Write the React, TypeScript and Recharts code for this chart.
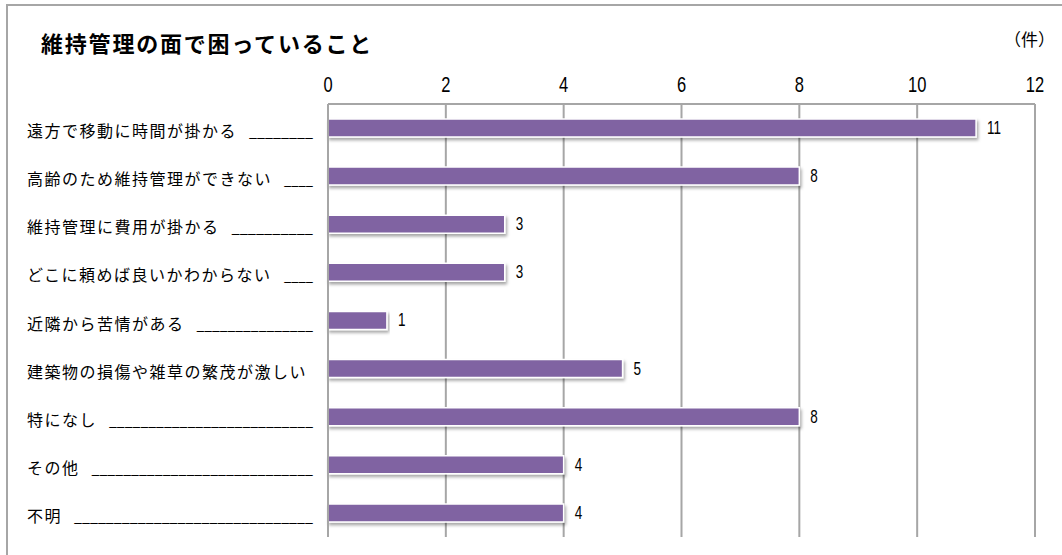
import { Bar, BarChart, CartesianGrid, LabelList, XAxis, YAxis } from "recharts";

const categories = [
  "遠方で移動に時間が掛かる",
  "高齢のため維持管理ができない",
  "維持管理に費用が掛かる",
  "どこに頼めば良いかわからない",
  "近隣から苦情がある",
  "建築物の損傷や雑草の繁茂が激しい",
  "特になし",
  "その他",
  "不明",
];
const counts = [11, 8, 3, 3, 1, 5, 8, 4, 4];
const xTicks = [0, 2, 4, 6, 8, 10, 12];

const title = "維持管理の面で困っていること";
const unit = "（件）";

const data = categories.map((name, i) => ({ name, value: counts[i] }));

const NUM = "'Liberation Sans', Arial, sans-serif";
const JP = "'Noto Sans CJK JP', 'Noto Sans', sans-serif";
const GRID = "#a6a6a6";

const LABEL_X = 27;
const LABEL_END = 313;
const FS = 16;
const LS = 1.5;

// narrow digits: squeeze a regular face horizontally
function XTick(props: any) {
  const { x, payload } = props;
  return (
    <g transform={`translate(${x},92) scale(0.75,1)`}>
      <text x={0} y={0} textAnchor="middle" fontSize={22} fontFamily={NUM} fill="#000">
        {payload.value}
      </text>
    </g>
  );
}

function ValueLabel(props: any) {
  const { x, y, width, height, value } = props;
  const lx = x + width + 11;
  const ly = y + height / 2 + 6;
  return (
    <g transform={`translate(${lx},${ly}) scale(0.75,1)`}>
      <text x={0} y={0} fontSize={18} fontFamily={NUM} fill="#000">
        {value}
      </text>
    </g>
  );
}

function CatTick(props: any) {
  const { y, payload } = props;
  const name: string = payload.value;
  const start = LABEL_X + name.length * (FS + LS) + 12;
  const len = LABEL_END - start;
  return (
    <g>
      <text
        x={LABEL_X}
        y={y}
        dy={2}
        dominantBaseline="central"
        fontSize={FS}
        letterSpacing={LS}
        fontFamily={JP}
        fill="#000"
      >
        {name}
      </text>
      {len > 10 && (
        <text
          x={start}
          y={y}
          dy={2}
          dominantBaseline="central"
          fontSize={FS}
          fontFamily={JP}
          fill="#000"
          textLength={len}
          lengthAdjust="spacingAndGlyphs"
        >
          {"_".repeat(Math.max(1, Math.round(len / 8)))}
        </text>
      )}
    </g>
  );
}

export default function App() {
  return (
    <div style={{ position: "absolute", left: 0, top: 0, width: 1062, height: 555, background: "#fff", overflow: "hidden" }}>
      <div
        style={{
          position: "absolute",
          left: 6,
          top: 4,
          width: 1100,
          height: 600,
          borderLeft: `2px solid ${GRID}`,
          borderTop: `2px solid ${GRID}`,
        }}
      />
      <div
        style={{
          position: "absolute",
          left: 41,
          top: 30,
          fontFamily: JP,
          fontWeight: 700,
          fontSize: 22,
          letterSpacing: 1.8,
          lineHeight: "24px",
          whiteSpace: "nowrap",
        }}
      >
        {title}
      </div>
      <div
        style={{
          position: "absolute",
          left: 1004,
          top: 29,
          fontFamily: JP,
          fontSize: 17,
          lineHeight: "20px",
          whiteSpace: "nowrap",
        }}
      >
        {unit}
      </div>
      <div style={{ position: "absolute", left: 0, top: 0 }}>
        <BarChart
          width={1062}
          height={555}
          data={data}
          layout="vertical"
          margin={{ top: 74, right: 27, bottom: 18, left: 0 }}
          barCategoryGap={0}
        >
          <defs>
            <filter id="barShadow" x="-5%" y="-30%" width="110%" height="170%">
              <feDropShadow dx="1.5" dy="2.5" stdDeviation="1.5" floodColor="#000" floodOpacity="0.35" />
            </filter>
          </defs>
          <CartesianGrid horizontal={false} vertical stroke={GRID} strokeWidth={2} />
          <XAxis
            type="number"
            orientation="top"
            domain={[0, 12]}
            ticks={xTicks}
            height={30}
            tickLine={false}
            axisLine={{ stroke: GRID, strokeWidth: 2 }}
            tick={<XTick />}
          />
          <YAxis
            type="category"
            dataKey="name"
            width={328}
            tickLine={false}
            axisLine={{ stroke: GRID, strokeWidth: 2 }}
            tick={<CatTick />}
            interval={0}
          />
          <Bar
            dataKey="value"
            fill="#8064A2"
            stroke="#fff"
            strokeWidth={1.5}
            barSize={18}
            filter="url(#barShadow)"
            isAnimationActive={false}
          >
            <LabelList dataKey="value" content={<ValueLabel />} />
          </Bar>
        </BarChart>
      </div>
    </div>
  );
}
